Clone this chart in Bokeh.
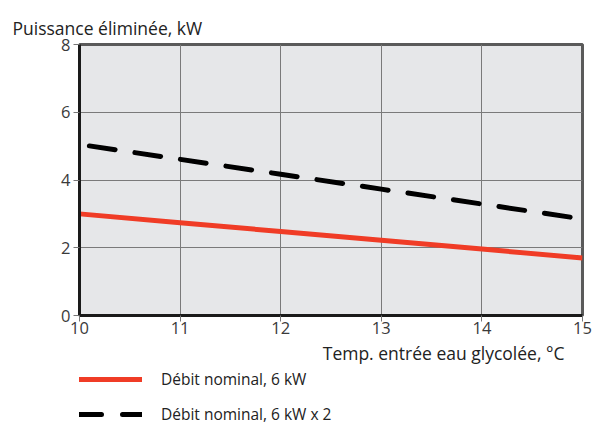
from bokeh.plotting import figure
from bokeh.layouts import column
from bokeh.models import Title, Legend, LegendItem, FixedTicker, Range1d
from bokeh.embed import file_html
from bokeh.resources import INLINE

temp = [10, 11, 12, 13, 14, 15]
nominal = [3.0, 2.74, 2.48, 2.22, 1.96, 1.70]
nominal_x2 = [5.05, 4.61, 4.17, 3.73, 3.29, 2.85]
x_ticks = [10, 11, 12, 13, 14, 15]
y_ticks = [0, 2, 4, 6, 8]
y_title = "Puissance éliminée, kW"
x_title = "Temp. entrée eau glycolée, °C"
series_names = ["Débit nominal, 6 kW", "Débit nominal, 6 kW x 2"]

FONT = "Open Sans"
RED = "#f03c26"

p = figure(frame_width=503, frame_height=271, output_backend="svg",
           toolbar_location=None,
           x_range=Range1d(10, 15), y_range=Range1d(0, 8),
           min_border_left=79, min_border_right=18, min_border_top=44,
           min_border_bottom=0)
p.background_fill_color = "#e6e7e9"
p.border_fill_color = "white"
p.outline_line_color = "#5a5a5a"
p.outline_line_width = 3

for ax in (p.xaxis, p.yaxis):
    ax.axis_line_color = "#1a1a1a"
    ax.axis_line_width = 3
    ax.major_tick_line_color = "#777777"
    ax.major_tick_line_width = 1
    ax.major_tick_in = 0
    ax.major_tick_out = 6
    ax.minor_tick_line_color = None
    ax.major_label_text_font = FONT
    ax.major_label_text_font_size = "16.5px"
    ax.major_label_text_color = "#3a3a3a"
p.xaxis.ticker = FixedTicker(ticks=x_ticks)
p.yaxis.ticker = FixedTicker(ticks=y_ticks)
p.xaxis.major_label_standoff = 0
p.yaxis.major_label_standoff = 3

p.grid.grid_line_color = "#7a7a7a"
p.grid.grid_line_width = 1
p.xgrid.ticker = FixedTicker(ticks=x_ticks)
p.ygrid.ticker = FixedTicker(ticks=y_ticks)

r1 = p.line(temp, nominal, line_color=RED, line_width=5)
r2 = p.line(temp, nominal_x2, line_color="black", line_width=5,
            line_dash="26 20", line_dash_offset=36, line_cap="round")

p.title = Title(text=y_title, align="left", offset=-67, standoff=10,
                text_font=FONT, text_font_size="17.5px",
                text_font_style="normal", text_color="#222222")

p.add_layout(Title(text=x_title, align="right", offset=18, standoff=5,
                   text_font=FONT, text_font_size="17.5px",
                   text_font_style="normal", text_color="#222222"), "below")

# legend strip below the chart
leg = figure(width=600, height=58, output_backend="svg", toolbar_location=None,
             x_axis_location=None, y_axis_location=None,
             x_range=Range1d(0, 1), y_range=Range1d(0, 1),
             min_border=0)
leg.outline_line_color = None
leg.grid.visible = False
leg.background_fill_color = "white"
# swatch renderers: their points lie outside the visible range, only the legend shows them
l1 = leg.line([-10, -9], [-10, -10], line_color=RED, line_width=5,
              line_cap="round")
l2 = leg.line([-10, -9], [-10, -10], line_color="black", line_width=5,
              line_dash="22 21", line_cap="round")

legend = Legend(items=[LegendItem(label=series_names[0], renderers=[l1]),
                       LegendItem(label=series_names[1], renderers=[l2])],
                location=(0, 0), orientation="vertical",
                glyph_width=63, glyph_height=20, label_standoff=19,
                spacing=13, padding=0, margin=0,
                border_line_color=None, background_fill_alpha=0,
                label_text_font=FONT, label_text_font_size="15.5px",
                label_text_color="#222222")
leg.add_layout(legend, "center")

layout = column(p, leg, spacing=0)
open("out.html", "w").write(file_html(layout, INLINE))
